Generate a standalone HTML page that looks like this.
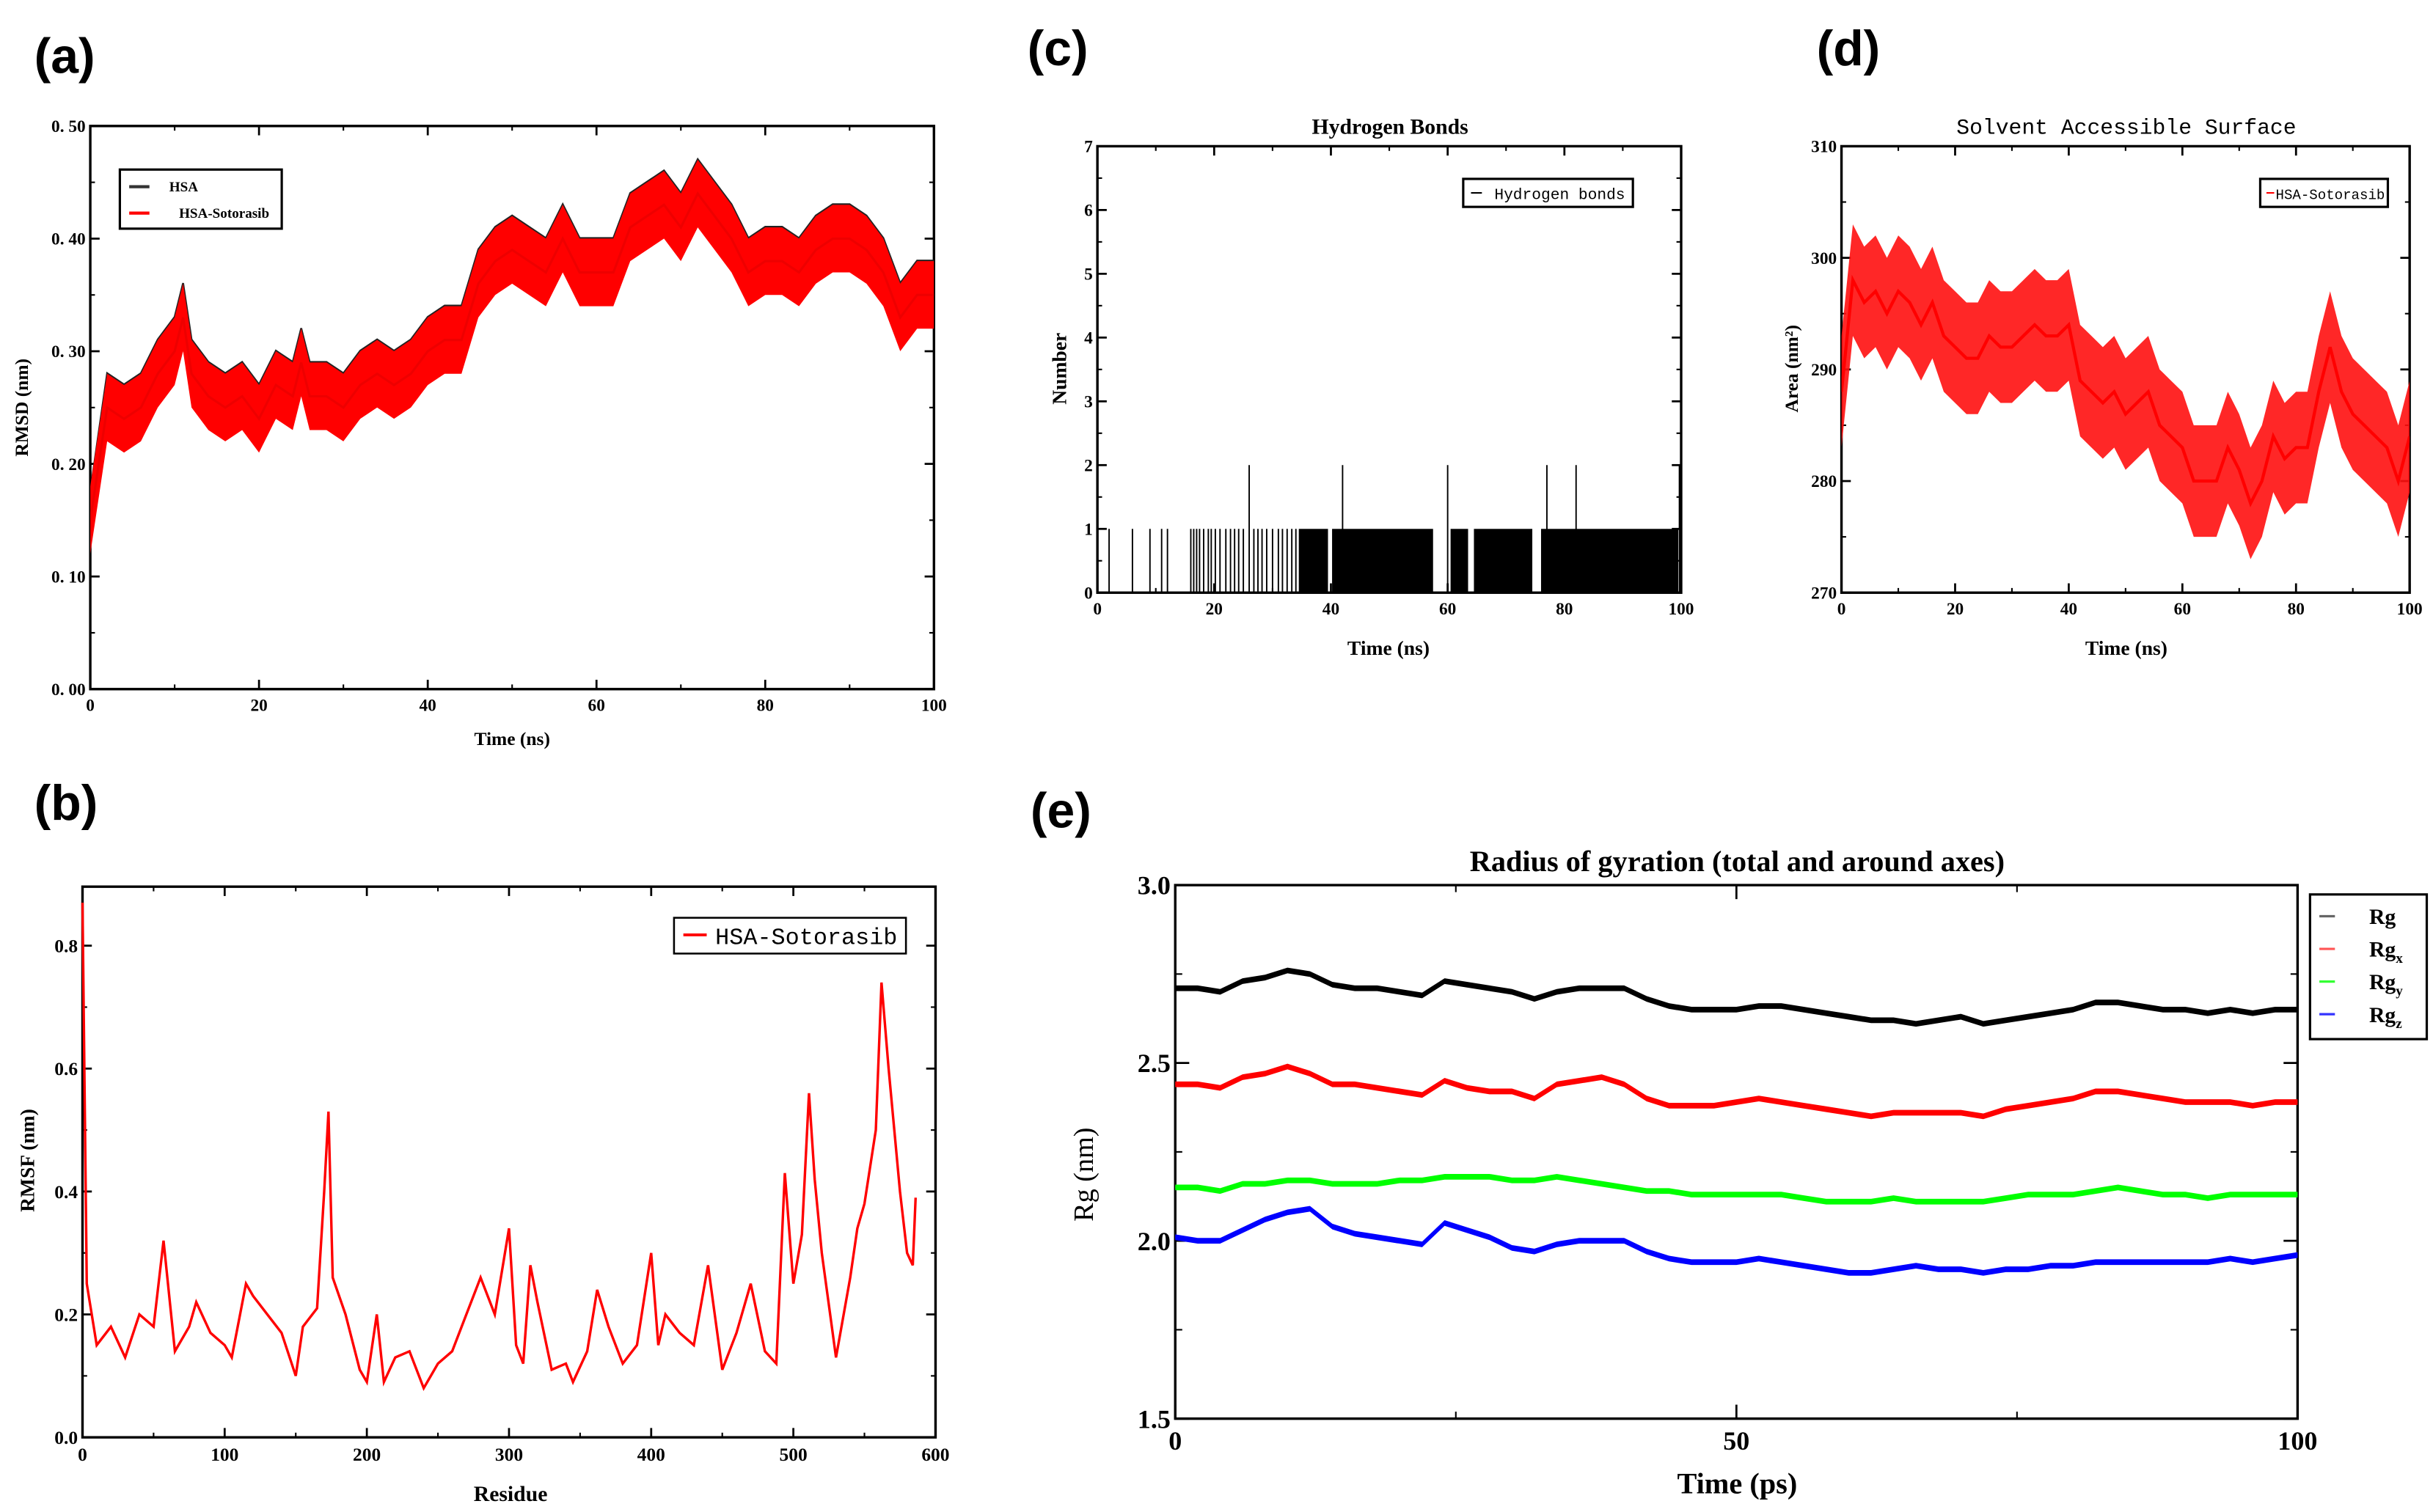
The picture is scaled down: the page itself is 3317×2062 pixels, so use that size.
<!DOCTYPE html>
<html><head><meta charset="utf-8"><title>MD analysis panels</title>
<style>
html,body{margin:0;padding:0;background:#fff;}
svg{display:block;}
.pl{font-family:"Liberation Sans",sans-serif;font-weight:bold;font-size:32px;}
.tk{font-family:"Liberation Serif",serif;font-weight:bold;fill:#000;}
</style></head>
<body>
<svg id="fig" width="3317" height="2062" viewBox="0 0 1563 972" preserveAspectRatio="none" xmlns="http://www.w3.org/2000/svg">
<rect x="0" y="0" width="1563" height="972" fill="#fff"/>
<text class="pl" x="22" y="47">(a)</text>
<text class="pl" x="22" y="527">(b)</text>
<text class="pl" x="660" y="42">(c)</text>
<text class="pl" x="1167" y="42">(d)</text>
<text class="pl" x="662" y="532">(e)</text>
</svg>
<script>
// ---------- Panel (a) RMSD ----------
const rmsdTime = [0,2,4,6,8,10,11,12,14,16,18,20,22,24,25,26,28,30,32,34,36,38,40,42,44,46,48,50,52,54,56,58,60,62,64,66,68,70,72,74,76,78,80,82,84,86,88,90,92,94,96,98,100];
const rmsdComplex = [0.15,0.25,0.24,0.25,0.28,0.30,0.33,0.28,0.26,0.25,0.26,0.24,0.27,0.26,0.29,0.26,0.26,0.25,0.27,0.28,0.27,0.28,0.30,0.31,0.31,0.36,0.38,0.39,0.38,0.37,0.40,0.37,0.37,0.37,0.41,0.42,0.43,0.41,0.44,0.42,0.40,0.37,0.38,0.38,0.37,0.39,0.40,0.40,0.39,0.37,0.33,0.35,0.35];
const rmsdHSA = [0.15,0.255,0.245,0.255,0.285,0.305,0.335,0.285,0.265,0.255,0.265,0.245,0.275,0.265,0.295,0.265,0.265,0.255,0.275,0.285,0.275,0.285,0.305,0.315,0.315,0.365,0.385,0.395,0.385,0.375,0.405,0.375,0.375,0.375,0.415,0.425,0.435,0.415,0.445,0.425,0.405,0.375,0.385,0.385,0.375,0.395,0.405,0.405,0.395,0.375,0.335,0.355,0.355];
const rmsdSpread = 0.03;
const rmsdYTicks = ["0. 00","0. 10","0. 20","0. 30","0. 40","0. 50"];
const rmsdXTicks = ["0","20","40","60","80","100"];
// ---------- Panel (b) RMSF ----------
const rmsfResidue = [0,3,10,20,30,40,50,57,65,75,80,90,100,105,115,120,130,140,150,155,165,170,173,176,185,195,200,207,212,220,230,240,250,260,270,280,290,300,305,310,315,320,330,340,345,355,362,370,380,390,400,405,410,420,430,440,450,460,470,480,488,494,500,506,511,515,520,530,540,545,550,558,562,567,575,580,584,586];
const rmsfValue = [0.87,0.25,0.15,0.18,0.13,0.20,0.18,0.32,0.14,0.18,0.22,0.17,0.15,0.13,0.25,0.23,0.20,0.17,0.10,0.18,0.21,0.40,0.53,0.26,0.20,0.11,0.09,0.20,0.09,0.13,0.14,0.08,0.12,0.14,0.20,0.26,0.20,0.34,0.15,0.12,0.28,0.22,0.11,0.12,0.09,0.14,0.24,0.18,0.12,0.15,0.30,0.15,0.20,0.17,0.15,0.28,0.11,0.17,0.25,0.14,0.12,0.43,0.25,0.33,0.56,0.42,0.30,0.13,0.26,0.34,0.38,0.50,0.74,0.60,0.40,0.30,0.28,0.39];
const rmsfYTicks = ["0.0","0.2","0.4","0.6","0.8"];
const rmsfXTicks = ["0","100","200","300","400","500","600"];
// ---------- Panel (c) Hydrogen bonds ----------
const hbSingleTimes = [2,6,9,11,12,16,16.5,17,17.5,18.2,19,19.5,20.2,21,22,22.8,23.5,24.2,25,26.8,27.5,28.2,29,30,31,31.7,32.5,33.3,34];
const hbSegStart = [34.5,40.2,60.5,64.5,76];
const hbSegEnd = [39.5,57.5,63.5,74.5,99.5];
const hbDoubleTimes = [26,42,60,77,82,99.7];
const hbYTicks = ["0","1","2","3","4","5","6","7"];
const hbXTicks = ["0","20","40","60","80","100"];
// ---------- Panel (d) SASA ----------
const sasaTime = [0,2,4,6,8,10,12,14,16,18,20,22,24,26,28,30,32,34,36,38,40,42,44,46,48,50,52,54,56,58,60,62,64,66,68,70,72,74,76,78,80,82,84,86,88,90,92,94,96,98,100];
const sasaArea = [288,298,296,297,295,297,296,294,296,293,292,291,291,293,292,292,293,294,293,293,294,289,288,287,288,286,287,288,285,284,283,280,280,280,283,281,278,280,284,282,283,283,288,292,288,286,285,284,283,280,284];
const sasaSpread = 5;
const sasaYTicks = ["270","280","290","300","310"];
const sasaXTicks = ["0","20","40","60","80","100"];
// ---------- Panel (e) Radius of gyration ----------
const rgTime = [0,2,4,6,8,10,12,14,16,18,20,22,24,26,28,30,32,34,36,38,40,42,44,46,48,50,52,54,56,58,60,62,64,66,68,70,72,74,76,78,80,82,84,86,88,90,92,94,96,98,100];
const rgTotal = [2.71,2.71,2.70,2.73,2.74,2.76,2.75,2.72,2.71,2.71,2.70,2.69,2.73,2.72,2.71,2.70,2.68,2.70,2.71,2.71,2.71,2.68,2.66,2.65,2.65,2.65,2.66,2.66,2.65,2.64,2.63,2.62,2.62,2.61,2.62,2.63,2.61,2.62,2.63,2.64,2.65,2.67,2.67,2.66,2.65,2.65,2.64,2.65,2.64,2.65,2.65];
const rgX = [2.44,2.44,2.43,2.46,2.47,2.49,2.47,2.44,2.44,2.43,2.42,2.41,2.45,2.43,2.42,2.42,2.40,2.44,2.45,2.46,2.44,2.40,2.38,2.38,2.38,2.39,2.40,2.39,2.38,2.37,2.36,2.35,2.36,2.36,2.36,2.36,2.35,2.37,2.38,2.39,2.40,2.42,2.42,2.41,2.40,2.39,2.39,2.39,2.38,2.39,2.39];
const rgY = [2.15,2.15,2.14,2.16,2.16,2.17,2.17,2.16,2.16,2.16,2.17,2.17,2.18,2.18,2.18,2.17,2.17,2.18,2.17,2.16,2.15,2.14,2.14,2.13,2.13,2.13,2.13,2.13,2.12,2.11,2.11,2.11,2.12,2.11,2.11,2.11,2.11,2.12,2.13,2.13,2.13,2.14,2.15,2.14,2.13,2.13,2.12,2.13,2.13,2.13,2.13];
const rgZ = [2.01,2.00,2.00,2.03,2.06,2.08,2.09,2.04,2.02,2.01,2.00,1.99,2.05,2.03,2.01,1.98,1.97,1.99,2.00,2.00,2.00,1.97,1.95,1.94,1.94,1.94,1.95,1.94,1.93,1.92,1.91,1.91,1.92,1.93,1.92,1.92,1.91,1.92,1.92,1.93,1.93,1.94,1.94,1.94,1.94,1.94,1.94,1.95,1.94,1.95,1.96];
const rgSpread = 0.008;
const rgYTicks = ["1.5","2.0","2.5","3.0"];
const rgXTicks = ["0","50","100"];

const NS = "http://www.w3.org/2000/svg";
const fig = document.getElementById("fig");
function el(tag, parent, attrs){
  const e = document.createElementNS(NS, tag);
  for (const k in attrs) e.setAttribute(k, attrs[k]);
  parent.appendChild(e);
  return e;
}
function scale(d0,d1,r0,r1){ return v => r0 + (v-d0)/(d1-d0)*(r1-r0); }
function linePath(xs, ys, sx, sy){
  return xs.map((x,i)=>(i?"L":"M")+sx(x).toFixed(2)+","+sy(ys[i]).toFixed(2)).join("");
}
function bandPath(xs, ys, spread, sx, sy){
  let p = xs.map((x,i)=>(i?"L":"M")+sx(x).toFixed(2)+","+sy(ys[i]+spread).toFixed(2)).join("");
  for (let i=xs.length-1;i>=0;i--) p += "L"+sx(xs[i]).toFixed(2)+","+sy(ys[i]-spread).toFixed(2);
  return p+"Z";
}
function axes(name, L, R, T, B, xMin, xMax, yMin, yMax, xLabels, yLabels, minorX, minorY, fs, tickLen){
  const g = el("g", fig, {});
  
  
  const sx = scale(xMin,xMax,L,R), sy = scale(yMin,yMax,B,T);
  const frame = el("rect", g, {x:L,y:T,width:R-L,height:B-T,fill:"none",stroke:"#000","stroke-width":1.6});
  
  
  const xn = xLabels.length;
  xLabels.forEach((lab,i)=>{
    const v = xMin + i*(xMax-xMin)/(xn-1), x = sx(v);
    el("line", g, {x1:x,y1:B,x2:x,y2:B-tickLen,stroke:"#000","stroke-width":1.3});
    el("line", g, {x1:x,y1:T,x2:x,y2:T+tickLen,stroke:"#000","stroke-width":1.3});
    const t = el("text", g, {x:x,y:B+fs+3,"text-anchor":"middle","font-size":fs,class:"tk"});
    t.textContent = lab;
    
    
    if (i<xn-1) for (let m=1;m<minorX;m++){
      const xm = sx(v + m*(xMax-xMin)/(xn-1)/minorX);
      el("line", g, {x1:xm,y1:B,x2:xm,y2:B-tickLen/2,stroke:"#000","stroke-width":1});
      el("line", g, {x1:xm,y1:T,x2:xm,y2:T+tickLen/2,stroke:"#000","stroke-width":1});
    }
  });
  const yStep = parseFloat(yLabels[1].replace(" ","")) - parseFloat(yLabels[0].replace(" ",""));
  yLabels.forEach((lab,i)=>{
    const v = parseFloat(yLabels[0].replace(" ","")) + i*yStep, y = sy(v);
    el("line", g, {x1:L,y1:y,x2:L+tickLen,y2:y,stroke:"#000","stroke-width":1.3});
    el("line", g, {x1:R,y1:y,x2:R-tickLen,y2:y,stroke:"#000","stroke-width":1.3});
    const t = el("text", g, {x:L-3,y:y+fs*0.35,"text-anchor":"end","font-size":fs,class:"tk"});
    t.textContent = lab;
    
    
    for (let m=1;m<minorY;m++){
      const vm = v + m*yStep/minorY;
      if (vm > yMax) break;
      const ym = sy(vm);
      el("line", g, {x1:L,y1:ym,x2:L+tickLen/2,y2:ym,stroke:"#000","stroke-width":1});
      el("line", g, {x1:R,y1:ym,x2:R-tickLen/2,y2:ym,stroke:"#000","stroke-width":1});
    }
  });
  return {g, sx, sy};
}
function label(g, txt, x, y, fs, name, rot, family, weight){
  const t = el("text", g, {x:x,y:y,"text-anchor":"middle","font-size":fs,"font-family":family||'"Liberation Serif",serif',"font-weight":weight||"bold"});
  if (rot) t.setAttribute("transform","rotate(-90 "+x+" "+y+")");
  t.textContent = txt;
  
  
  return t;
}

// ===== Panel (a)
(function(){
  const A = axes("rmsd-chart",58,600,81,443,0,100,0,0.5,rmsdXTicks,rmsdYTicks,2,2,11,6);
  const clip = el("clipPath", A.g, {id:"clipA"}); el("rect", clip, {x:58,y:81,width:542,height:362});
  const hsa = el("path", A.g, {d:linePath(rmsdTime,rmsdHSA.map(v=>v+rmsdSpread*0.85),A.sx,A.sy),fill:"none",stroke:"#222","stroke-width":1.2,"clip-path":"url(#clipA)"});
  
  
  const band = el("path", A.g, {d:bandPath(rmsdTime,rmsdComplex,rmsdSpread,A.sx,A.sy),fill:"#f00",stroke:"none","clip-path":"url(#clipA)"});
  
  
  const ln = el("path", A.g, {d:linePath(rmsdTime,rmsdComplex,A.sx,A.sy),fill:"none",stroke:"#e00","stroke-width":1.5,"clip-path":"url(#clipA)"});
  
  
  label(A.g,"Time (ns)",329,479,12,"x-axis-title");
  label(A.g,"RMSD (nm)",18,262,12,"y-axis-title",true);
  const lg = el("g", A.g, {});
  
  
  el("rect", lg, {x:77,y:109,width:104,height:38,fill:"#fff",stroke:"#000","stroke-width":1.5});
  el("line", lg, {x1:83,y1:120,x2:96,y2:120,stroke:"#333","stroke-width":2});
  el("line", lg, {x1:83,y1:137,x2:96,y2:137,stroke:"#f00","stroke-width":2});
  label(lg,"HSA",118,123,9,"legend-entry-hsa");
  label(lg,"HSA-Sotorasib",144,140,9,"legend-entry-hsa-sotorasib");
})();

// ===== Panel (b)
(function(){
  const B = axes("rmsf-chart",53,601,570,924,0,600,0,0.896,rmsfXTicks,rmsfYTicks,2,2,12,6);
  const ln = el("path", B.g, {d:linePath(rmsfResidue,rmsfValue,B.sx,B.sy),fill:"none",stroke:"#f00","stroke-width":1.6});
  
  
  label(B.g,"Residue",328,965,14,"x-axis-title");
  label(B.g,"RMSF (nm)",22,746,13,"y-axis-title",true);
  const lg = el("g", B.g, {});
  
  
  el("rect", lg, {x:433,y:590,width:149,height:23,fill:"#fff",stroke:"#000","stroke-width":1.2});
  el("line", lg, {x1:439,y1:601,x2:454,y2:601,stroke:"#f00","stroke-width":1.8});
  label(lg,"HSA-Sotorasib",518,607,15,"legend-entry-hsa-sotorasib",false,'"Liberation Mono",monospace',"normal");
})();

// ===== Panel (c)
(function(){
  const C = axes("hbond-chart",705,1080,94,381,0,100,0,7,hbXTicks,hbYTicks,2,2,11,6);
  hbSingleTimes.forEach(t=>{
    const b = el("line", C.g, {x1:C.sx(t),y1:C.sy(0),x2:C.sx(t),y2:C.sy(1),stroke:"#000","stroke-width":0.9});
    
    
  });
  hbSegStart.forEach((s,i)=>{
    const r = el("rect", C.g, {x:C.sx(s),y:C.sy(1),width:C.sx(hbSegEnd[i])-C.sx(s),height:C.sy(0)-C.sy(1),fill:"#000"});
    
    
  });
  hbDoubleTimes.forEach(t=>{
    const b = el("line", C.g, {x1:C.sx(t),y1:C.sy(0),x2:C.sx(t),y2:C.sy(2),stroke:"#000","stroke-width":0.9});
    
    
  });
  label(C.g,"Hydrogen Bonds",893,86,14,"chart-title");
  label(C.g,"Time (ns)",892,421,13,"x-axis-title");
  label(C.g,"Number",685,237,13,"y-axis-title",true);
  const lg = el("g", C.g, {});
  
  
  el("rect", lg, {x:940,y:115,width:109,height:18,fill:"#fff",stroke:"#000","stroke-width":1.5});
  el("line", lg, {x1:945,y1:124,x2:952,y2:124,stroke:"#000","stroke-width":1});
  label(lg,"Hydrogen bonds",1002,128,10,"legend-entry-hydrogen-bonds",false,'"Liberation Mono",monospace',"normal");
})();

// ===== Panel (d)
(function(){
  const D = axes("sasa-chart",1183,1548,94,381,0,100,270,310,sasaXTicks,sasaYTicks,2,2,11,6);
  const clip = el("clipPath", D.g, {id:"clipD"}); el("rect", clip, {x:1183,y:94,width:365,height:287});
  const band = el("path", D.g, {d:bandPath(sasaTime,sasaArea,sasaSpread,D.sx,D.sy),fill:"#ff1010","fill-opacity":0.9,stroke:"none","clip-path":"url(#clipD)"});
  
  
  const ln = el("path", D.g, {d:linePath(sasaTime,sasaArea,D.sx,D.sy),fill:"none",stroke:"#f00","stroke-width":2,"clip-path":"url(#clipD)"});
  
  
  label(D.g,"Solvent Accessible Surface",1366,86,14,"chart-title",false,'"Liberation Mono",monospace',"normal");
  label(D.g,"Time (ns)",1366,421,13,"x-axis-title");
  label(D.g,"Area (nm²)",1155,237,12,"y-axis-title",true);
  const lg = el("g", D.g, {});
  
  
  el("rect", lg, {x:1452,y:115,width:82,height:18,fill:"#fff",stroke:"#000","stroke-width":1.5});
  el("line", lg, {x1:1456,y1:124,x2:1461,y2:124,stroke:"#f00","stroke-width":1});
  label(lg,"HSA-Sotorasib",1497,128,9,"legend-entry-hsa-sotorasib",false,'"Liberation Mono",monospace',"normal");
})();

// ===== Panel (e)
(function(){
  const E = axes("rg-chart",755,1476,569,912,0,100,1.5,3.0,rgXTicks,rgYTicks,2,2,17,9);
  const series = [[rgTotal,"#000","rg-total-line"],[rgX,"#f00","rg-x-line"],[rgY,"#0f0","rg-y-line"],[rgZ,"#00f","rg-z-line"]];
  series.forEach(s=>{
    const b = el("path", E.g, {d:bandPath(rgTime,s[0],rgSpread,E.sx,E.sy),fill:s[1],stroke:"none"});
    
    
    const p = el("path", E.g, {d:linePath(rgTime,s[0],E.sx,E.sy),fill:"none",stroke:s[1],"stroke-width":1});
    
    
  });
  label(E.g,"Radius of gyration (total and around axes)",1116,560,19,"chart-title");
  label(E.g,"Time (ps)",1116,960,19,"x-axis-title");
  label(E.g,"Rg  (nm)",702,755,18,"y-axis-title",true,'"Liberation Serif",serif',"normal");
  const lg = el("g", E.g, {});
  
  
  el("rect", lg, {x:1484,y:575,width:75,height:93,fill:"#fff",stroke:"#000","stroke-width":1.5});
  const names = ["Rg","Rgx","Rgy","Rgz"], cols = ["#666","#f55","#3f3","#33f"];
  names.forEach((n,i)=>{
    const y = 589 + i*21;
    el("line", lg, {x1:1490,y1:y,x2:1500,y2:y,stroke:cols[i],"stroke-width":1.5});
    const t = el("text", lg, {x:1522,y:y+5,"font-size":14,"font-family":'"Liberation Serif",serif',"font-weight":"bold"});
    t.textContent = "Rg";
    if (i>0){ const s = el("tspan", t, {"font-size":9,dy:4}); s.textContent = n.slice(2); }
    
    
  });
})();
</script>
</body></html>
